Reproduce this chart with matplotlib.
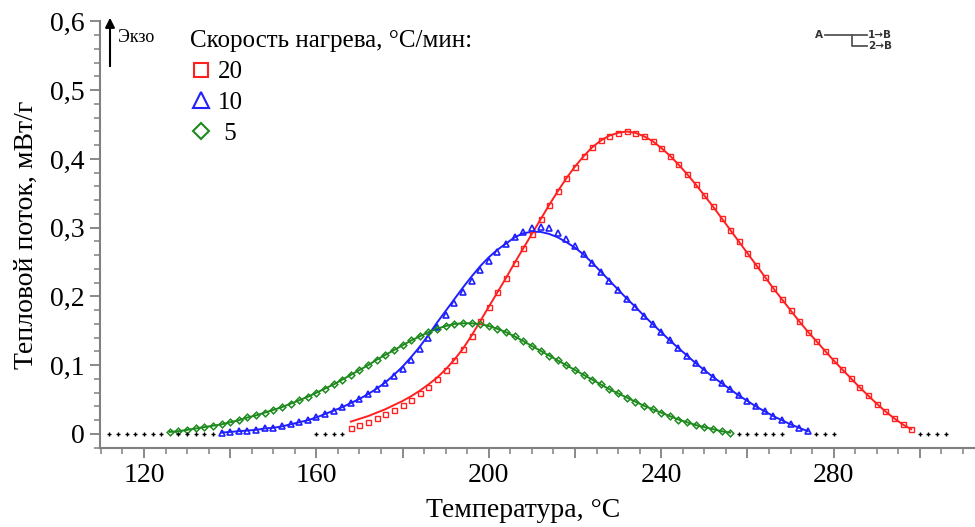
import matplotlib
matplotlib.use('Agg')
import matplotlib.pyplot as plt
from matplotlib.lines import Line2D
from matplotlib.ticker import FixedLocator, MultipleLocator, FuncFormatter

# Red: 20 °C/min
red_t = [168, 170, 172, 174, 176, 178, 180, 182, 184, 186, 188, 190, 192, 194, 196, 198,
         200, 202, 204, 206, 208, 210, 212, 214, 216, 218, 220, 222, 224, 226, 228, 230,
         232, 234, 236, 238, 240, 242, 244, 246, 248, 250, 252, 254, 256, 258, 260, 262,
         264, 266, 268, 270, 272, 274, 276, 278, 280, 282, 284, 286, 288, 290, 292, 294,
         296, 298]
red_exp = [0.009, 0.013, 0.018, 0.023, 0.029, 0.035, 0.042, 0.050, 0.059, 0.069, 0.080, 0.093,
           0.108, 0.124, 0.143, 0.164, 0.185, 0.206, 0.227, 0.249, 0.270, 0.291, 0.312, 0.333,
           0.353, 0.372, 0.389, 0.404, 0.417, 0.427, 0.434, 0.438, 0.440, 0.438, 0.433, 0.426,
           0.416, 0.405, 0.392, 0.378, 0.363, 0.347, 0.331, 0.314, 0.297, 0.280, 0.263, 0.246,
           0.229, 0.212, 0.196, 0.180, 0.164, 0.149, 0.135, 0.121, 0.107, 0.094, 0.081, 0.068,
           0.056, 0.044, 0.033, 0.023, 0.014, 0.007]
red_fit = [0.018, 0.022, 0.026, 0.031, 0.036, 0.042, 0.048, 0.055, 0.063, 0.072, 0.082, 0.094,
           0.108, 0.124, 0.143, 0.164, 0.185, 0.206, 0.227, 0.249, 0.270, 0.291, 0.312, 0.333,
           0.353, 0.372, 0.389, 0.404, 0.417, 0.427, 0.434, 0.438, 0.440, 0.438, 0.433, 0.426,
           0.416, 0.405, 0.392, 0.378, 0.363, 0.347, 0.331, 0.314, 0.297, 0.280, 0.263, 0.246,
           0.229, 0.212, 0.196, 0.180, 0.164, 0.149, 0.135, 0.121, 0.107, 0.094, 0.081, 0.068,
           0.056, 0.044, 0.033, 0.023, 0.014, 0.007]

# Blue: 10 °C/min
blue_t = [138, 140, 142, 144, 146, 148, 150, 152, 154, 156, 158, 160, 162, 164, 166, 168,
          170, 172, 174, 176, 178, 180, 182, 184, 186, 188, 190, 192, 194, 196, 198, 200,
          202, 204, 206, 208, 210, 212, 214, 216, 218, 220, 222, 224, 226, 228, 230, 232,
          234, 236, 238, 240, 242, 244, 246, 248, 250, 252, 254, 256, 258, 260, 262, 264,
          266, 268, 270, 272, 274]
blue_exp = [0.002, 0.003, 0.004, 0.005, 0.006, 0.008, 0.009, 0.011, 0.014, 0.017, 0.020, 0.024,
            0.029, 0.034, 0.039, 0.045, 0.051, 0.058, 0.066, 0.074, 0.084, 0.095, 0.108, 0.123,
            0.139, 0.156, 0.173, 0.190, 0.207, 0.223, 0.238, 0.252, 0.264, 0.276, 0.286, 0.294,
            0.299, 0.301, 0.299, 0.293, 0.284, 0.273, 0.262, 0.249, 0.236, 0.223, 0.210, 0.197,
            0.185, 0.172, 0.160, 0.148, 0.136, 0.125, 0.114, 0.103, 0.093, 0.083, 0.074, 0.065,
            0.056, 0.048, 0.040, 0.033, 0.026, 0.020, 0.014, 0.009, 0.004]
blue_fit = [0.002, 0.003, 0.004, 0.005, 0.006, 0.008, 0.009, 0.011, 0.014, 0.017, 0.020, 0.024,
            0.029, 0.034, 0.039, 0.045, 0.051, 0.058, 0.066, 0.075, 0.086, 0.098, 0.112, 0.127,
            0.144, 0.162, 0.179, 0.196, 0.213, 0.229, 0.244, 0.257, 0.268, 0.277, 0.286, 0.292,
            0.294, 0.294, 0.291, 0.286, 0.279, 0.271, 0.261, 0.249, 0.236, 0.223, 0.210, 0.197,
            0.185, 0.172, 0.160, 0.148, 0.136, 0.125, 0.114, 0.103, 0.093, 0.083, 0.074, 0.065,
            0.056, 0.048, 0.040, 0.033, 0.026, 0.020, 0.014, 0.009, 0.004]

# Green: 5 °C/min
green_t = [126, 128, 130, 132, 134, 136, 138, 140, 142, 144, 146, 148, 150, 152, 154, 156,
           158, 160, 162, 164, 166, 168, 170, 172, 174, 176, 178, 180, 182, 184, 186, 188,
           190, 192, 194, 196, 198, 200, 202, 204, 206, 208, 210, 212, 214, 216, 218, 220,
           222, 224, 226, 228, 230, 232, 234, 236, 238, 240, 242, 244, 246, 248, 250, 252,
           254, 256]
green_exp = [0.003, 0.004, 0.006, 0.008, 0.010, 0.012, 0.014, 0.017, 0.020, 0.024, 0.027, 0.031,
             0.035, 0.039, 0.044, 0.049, 0.054, 0.060, 0.066, 0.072, 0.079, 0.086, 0.093, 0.100,
             0.108, 0.115, 0.122, 0.129, 0.136, 0.142, 0.148, 0.153, 0.157, 0.160, 0.161, 0.161,
             0.160, 0.157, 0.153, 0.148, 0.142, 0.135, 0.128, 0.121, 0.114, 0.107, 0.100, 0.093,
             0.086, 0.079, 0.072, 0.065, 0.059, 0.053, 0.047, 0.041, 0.036, 0.031, 0.026, 0.021,
             0.017, 0.013, 0.010, 0.007, 0.004, 0.002]

# Baseline points (black crosses) outside the fitted ranges
base_t = [112, 114, 116, 118, 120, 122, 124, 128, 130, 132, 134, 136, 160, 162, 164, 166,
          258, 260, 262, 264, 266, 268, 276, 278, 280, 300, 302, 304, 306]
base_y = [0.0] * len(base_t)

rates = ['20', '10', ' 5']
x_major = [120, 140, 160, 180, 200, 220, 240, 260, 280, 300]
x_labeled = [120, 160, 200, 240, 280]
y_major = [0, 0.1, 0.2, 0.3, 0.4, 0.5, 0.6]
y_labels = ['0', '0,1', '0,2', '0,3', '0,4', '0,5', '0,6']

RED = '#ff2020'
BLUE = '#2020ff'
GREEN = '#1e8a1e'
AXIS = '#808080'

plt.rcParams['font.family'] = ['Liberation Serif', 'DejaVu Serif']

W, H = 975, 527
fig = plt.figure(figsize=(W / 100, H / 100), dpi=100)
ax = fig.add_axes([100 / W, 79 / H, 875 / W, 427 / H])

# fitted curves
ax.plot(red_t, red_fit, color=RED, lw=1.4, zorder=2)
ax.plot(blue_t, blue_fit, color=BLUE, lw=1.4, zorder=2)
ax.plot(green_t, green_exp, color=GREEN, lw=1.4, zorder=2)

# experimental points
ax.plot(red_t, red_exp, ls='none', marker='s', ms=3.6, mfc='none', mec=RED, mew=1.0, zorder=3)
ax.plot(blue_t, blue_exp, ls='none', marker='^', ms=4.2, mfc='none', mec=BLUE, mew=1.2, zorder=3)
ax.plot(green_t, green_exp, ls='none', marker='D', ms=3.4, mfc='none', mec=GREEN, mew=1.1, zorder=3)
ax.plot(base_t, base_y, ls='none', marker='+', ms=3.5, color='black', mew=1.0, zorder=3)

ax.set_xlim(109.8, 312.8)
ax.set_ylim(-0.0204, 0.6007)

ax.xaxis.set_major_locator(FixedLocator(x_major))
ax.xaxis.set_minor_locator(MultipleLocator(5))
ax.xaxis.set_major_formatter(FuncFormatter(lambda v, p: f'{v:.0f}' if round(v) in x_labeled else ''))
ax.yaxis.set_major_locator(FixedLocator(y_major))
ax.yaxis.set_minor_locator(MultipleLocator(0.02))
ax.set_yticklabels(y_labels)

for side in ['top', 'right']:
    ax.spines[side].set_visible(False)
for side in ['left', 'bottom']:
    ax.spines[side].set_color(AXIS)
    ax.spines[side].set_linewidth(1.5)

ax.tick_params(which='major', direction='out', length=7, width=1.3, color=AXIS,
               labelsize=20, pad=4)
ax.tick_params(which='minor', direction='out', length=4, width=1.1, color=AXIS)

ax.set_xlabel('Температура, °C', fontsize=20)
ax.xaxis.set_label_coords(0.483, -0.117)
ax.set_ylabel('Тепловой поток, мВт/г', fontsize=20, labelpad=8)

# legend
handles = [
    Line2D([], [], ls='none', marker='s', ms=10, mfc='none', mec=RED, mew=1.5),
    Line2D([], [], ls='none', marker='^', ms=11, mfc='none', mec=BLUE, mew=1.5),
    Line2D([], [], ls='none', marker='D', ms=8, mfc='none', mec=GREEN, mew=1.5),
]
leg = fig.legend(handles, rates, title='Скорость нагрева, °C/мин:', loc='upper left',
                 bbox_to_anchor=(173 / W, 1 - 13 / H), frameon=False, fontsize=18,
                 title_fontsize=18, handlelength=0.8, handletextpad=0.3,
                 labelspacing=0.33, borderpad=0.2, alignment='left')

# exo arrow
ax.annotate('', xy=(110 / W, 1 - 15 / H), xytext=(110 / W, 1 - 69 / H),
            xycoords='figure fraction', textcoords='figure fraction',
            arrowprops=dict(arrowstyle='-|>', color='black', lw=1.5, mutation_scale=14))
fig.text(118 / W, 1 - 37 / H, 'Экзо', fontsize=13, va='center', ha='left')

# reaction scheme inset (top right)
gray = '#555555'
fig.add_artist(Line2D([825 / W, 867 / W], [1 - 35 / H, 1 - 35 / H], color=gray, lw=1.3))
fig.add_artist(Line2D([852 / W, 852 / W, 867 / W], [1 - 35 / H, 1 - 46 / H, 1 - 46 / H],
                      color=gray, lw=1.3))
sans = ['DejaVu Sans']
fig.text(819 / W, 1 - 35 / H, 'A', fontsize=7.5, fontweight='bold', family=sans,
         va='center', ha='center', color='#333333')
fig.text(868 / W, 1 - 35 / H, '1→B', fontsize=7.5, fontweight='bold', family=sans,
         va='center', ha='left', color='#333333')
fig.text(868 / W, 1 - 46 / H, '2→B', fontsize=7.5, fontweight='bold', family=sans,
         va='center', ha='left', color='#333333')

fig.savefig('out.png', dpi=100)
